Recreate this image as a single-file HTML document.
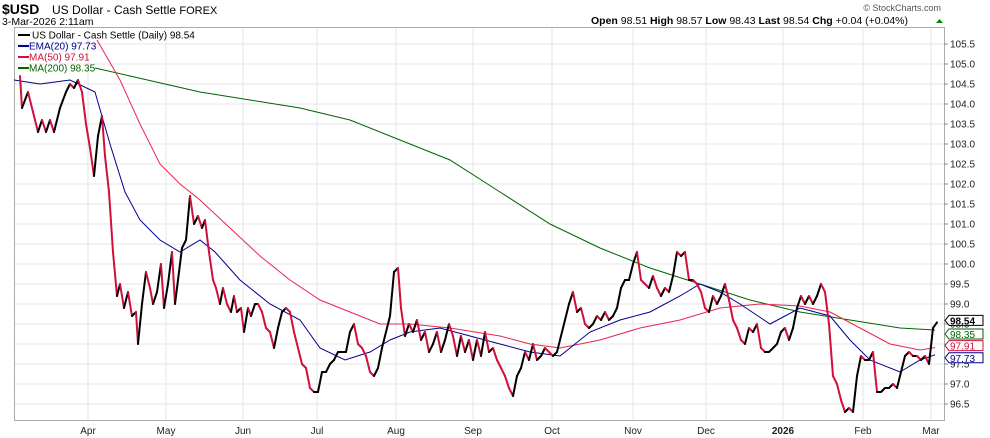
<!DOCTYPE html>
<html><head><meta charset="utf-8"><style>
body{margin:0;background:#fff;width:990px;height:438px;overflow:hidden}
svg{display:block;font-family:"Liberation Sans",sans-serif}
</style></head><body>
<svg id="s" width="990" height="438" xmlns="http://www.w3.org/2000/svg">
<rect width="990" height="438" fill="#fff"/>
<g id="grid"></g>
<rect x="14.5" y="27.5" width="930" height="393" fill="none" stroke="#aaa"/>
<text x="2" y="14" font-size="14" font-weight="bold">$USD</text>
<text x="52" y="14" font-size="12">US Dollar - Cash Settle <tspan font-size="11">FOREX</tspan></text>
<text x="2" y="25" font-size="10.5">3-Mar-2026 2:11am</text>
<text x="941" y="11" font-size="9" fill="#555" text-anchor="end">© StockCharts.com</text>
<text x="591" y="24" font-size="10.5"><tspan font-weight="bold">Open</tspan> 98.51 <tspan font-weight="bold">High</tspan> 98.57 <tspan font-weight="bold">Low</tspan> 98.43 <tspan font-weight="bold">Last</tspan> 98.54 <tspan font-weight="bold">Chg</tspan> +0.04 (+0.04%)</text>
<path d="M936 23 l3.5 -4 l3.5 4 z" fill="#080"/>
<g id="series"></g>
<g font-size="10">
<line x1="18" y1="35" x2="30" y2="35" stroke="#000" stroke-width="2"/><text x="32" y="38.5">US Dollar - Cash Settle (Daily) 98.54</text>
<line x1="18" y1="46" x2="29" y2="46" stroke="#00008b" stroke-width="2"/><text x="29" y="49.5" fill="#00008b">EMA(20) 97.73</text>
<line x1="18" y1="57" x2="29" y2="57" stroke="#d0103a" stroke-width="2"/><text x="29" y="60.5" fill="#d0103a">MA(50) 97.91</text>
<line x1="18" y1="68" x2="29" y2="68" stroke="#006400" stroke-width="2"/><text x="29" y="71.5" fill="#006400">MA(200) 98.35</text>
</g>
<g id="axis" font-size="10"></g>
</svg>
<script>
const Y=v=>44+(105.5-v)*40, NS="http://www.w3.org/2000/svg";
function el(t,a,p){const e=document.createElementNS(NS,t);for(const k in a)e.setAttribute(k,a[k]);if(a.txt)e.textContent=a.txt;document.getElementById(p).appendChild(e);return e;}
const months=[[88,"Apr"],[166,"May"],[243,"Jun"],[317,"Jul"],[396,"Aug"],[473,"Sep"],[552,"Oct"],[633,"Nov"],[706,"Dec"],[783,"2026"],[863,"Feb"],[931,"Mar"]];
for(let v=96.5;v<=105.51;v+=0.5){const y=Y(v);el("line",{x1:15,x2:944,y1:y,y2:y,stroke:"#e4e4e4"},"grid");
el("line",{x1:944,x2:948,y1:y,y2:y,stroke:"#888"},"axis");
el("text",{x:950,y:y+3.5,txt:v.toFixed(1),fill:"#222"},"axis");}
months.forEach(([x,l])=>{el("line",{x1:x,x2:x,y1:28,y2:420,stroke:"#e4e4e4"},"grid");
el("text",{x:x,y:434,"text-anchor":"middle",txt:l,fill:"#222","font-weight":l=="2026"?"bold":"normal"},"axis");});
function pl(pts,c,w){el("polyline",{points:pts.map(p=>p[0]+","+Y(p[1])).join(" "),fill:"none",stroke:c,"stroke-width":w},"series");}
pl([[95,104.9],[130,104.7],[200,104.3],[250,104.1],[300,103.9],[350,103.6],[400,103.1],[450,102.6],[500,101.8],[550,101.0],[600,100.4],[650,99.9],[700,99.5],[750,99.1],[800,98.8],[850,98.6],[900,98.4],[935,98.35]],"#006400",1);
pl([[97,105.6],[120,104.6],[140,103.5],[160,102.5],[180,102.0],[200,101.6],[230,100.9],[260,100.2],[290,99.6],[320,99.1],[350,98.8],[380,98.5],[410,98.5],[450,98.4],[500,98.2],[530,98.0],[560,97.9],[600,98.1],[640,98.4],[680,98.6],[720,98.9],[760,99.0],[800,98.95],[830,98.8],[860,98.4],[890,98.0],[920,97.85],[935,97.91]],"#e8264f",1);
pl([[14,104.6],[40,104.5],[70,104.6],[95,104.3],[110,103.0],[125,101.8],[140,101.1],[160,100.6],[180,100.3],[200,100.6],[215,100.3],[240,99.6],[270,99.0],[300,98.6],[320,97.9],[345,97.6],[370,97.8],[390,98.1],[410,98.3],[440,98.4],[470,98.2],[500,98.0],[530,97.8],[560,97.7],[590,98.3],[620,98.6],[650,98.8],[680,99.2],[700,99.5],[720,99.3],[740,99.0],[770,98.5],[800,98.9],[830,98.7],[850,98.1],[870,97.6],[900,97.3],[920,97.6],[935,97.73]],"#00008b",1);
const P=[[20,104.7],[22,103.9],[28,104.3],[33,103.8],[38,103.3],[42,103.6],[46,103.3],[50,103.6],[54,103.3],[60,103.9],[66,104.3],[70,104.5],[74,104.4],[78,104.6],[82,104.3],[86,103.5],[90,102.9],[94,102.2],[98,103.2],[102,103.7],[105,102.7],[109,101.8],[113,100.3],[117,99.2],[120,99.5],[124,98.9],[128,99.3],[132,98.7],[136,98.8],[138,98.0],[142,99.0],[146,99.8],[150,99.4],[153,99.0],[157,99.3],[161,100.0],[164,98.9],[168,99.5],[172,100.3],[175,99.0],[178,99.6],[182,100.4],[186,100.6],[190,101.7],[194,101.0],[198,101.2],[202,100.9],[205,101.1],[209,100.3],[213,99.6],[216,99.4],[220,99.0],[223,99.4],[227,99.0],[231,98.8],[234,99.2],[237,98.8],[241,98.9],[244,98.3],[248,98.9],[251,98.7],[255,99.0],[258,99.0],[262,98.8],[266,98.4],[270,98.3],[274,97.9],[278,98.4],[282,98.8],[286,98.9],[290,98.8],[294,98.3],[298,97.9],[302,97.5],[306,97.4],[310,96.9],[314,96.8],[318,96.8],[322,97.3],[326,97.3],[330,97.5],[334,97.6],[338,97.8],[342,97.8],[346,97.8],[350,98.3],[354,98.5],[358,98.0],[362,97.9],[366,97.7],[370,97.3],[374,97.2],[378,97.4],[382,97.9],[386,98.3],[390,98.7],[394,99.8],[398,99.9],[401,98.9],[405,98.2],[409,98.5],[413,98.3],[417,98.6],[421,98.1],[425,98.3],[429,97.8],[433,98.0],[437,98.3],[441,97.8],[445,98.1],[449,98.5],[453,98.2],[457,97.7],[461,98.2],[465,97.8],[469,98.1],[473,97.6],[477,98.1],[481,97.7],[485,98.3],[489,97.8],[493,97.9],[497,97.6],[501,97.4],[505,97.2],[509,96.9],[513,96.7],[517,97.2],[521,97.4],[525,97.8],[529,97.6],[533,98.0],[537,97.6],[541,97.7],[545,97.9],[549,97.8],[553,97.7],[557,97.8],[561,98.2],[565,98.6],[569,99.0],[573,99.3],[577,98.8],[581,98.9],[585,98.5],[589,98.4],[593,98.5],[597,98.7],[601,98.6],[605,98.8],[609,98.6],[613,98.7],[617,98.9],[621,99.4],[625,99.6],[629,99.6],[633,100.0],[637,100.3],[641,99.6],[645,99.5],[649,99.4],[653,99.7],[657,99.4],[661,99.2],[665,99.4],[669,99.3],[673,99.7],[677,100.3],[681,100.2],[685,100.3],[689,99.6],[693,99.6],[697,99.5],[701,99.3],[705,98.9],[709,98.8],[713,99.2],[717,99.0],[721,99.2],[725,99.5],[729,99.1],[733,98.6],[737,98.4],[741,98.1],[745,98.0],[749,98.4],[753,98.3],[757,98.5],[761,97.9],[765,97.8],[769,97.8],[773,97.9],[777,98.0],[781,98.3],[785,98.4],[789,98.1],[793,98.4],[797,98.9],[801,99.2],[805,99.0],[809,99.2],[813,99.0],[817,99.2],[821,99.5],[825,99.3],[829,98.5],[833,97.2],[837,97.0],[841,96.6],[845,96.3],[849,96.4],[853,96.3],[857,97.2],[861,97.7],[865,97.6],[869,97.6],[873,97.8],[877,96.8],[881,96.8],[885,96.9],[889,96.9],[893,97.0],[897,96.9],[901,97.3],[905,97.7],[909,97.8],[913,97.7],[917,97.7],[921,97.6],[925,97.7],[929,97.5],[933,98.4],[937,98.54]];
for(let i=1;i<P.length;i++){const a=P[i-1],b=P[i];el("line",{x1:a[0],y1:Y(a[1]),x2:b[0],y2:Y(b[1]),stroke:b[1]>=a[1]?"#000":"#d0103a","stroke-width":2,"stroke-linecap":"round"},"series");}
function tag(v,ty,c,bold){const y=ty;el("path",{d:`M945 ${y} l4 -5 h34 v10 h-34 z`,fill:"#fff",stroke:c},"axis");
el("text",{x:950,y:y+4,txt:v,fill:c,"font-weight":bold?"bold":"normal"},"axis");}
tag("98.35",Y(98.35)+4,"#006400");tag("98.54",Y(98.54)-2,"#000",true);
tag("97.91",Y(97.91)-2,"#d0103a");tag("97.73",Y(97.73)+3,"#00008b");
</script>
</body></html>
